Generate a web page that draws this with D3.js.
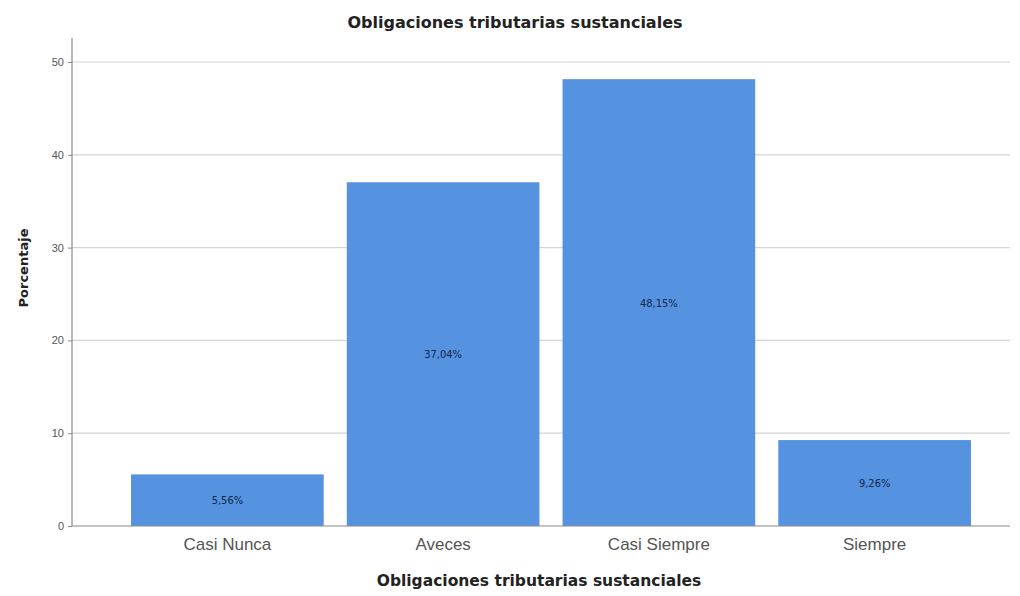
<!DOCTYPE html>
<html><head><meta charset="utf-8">
<script src="https://cdn.jsdelivr.net/npm/d3@7"></script>
<style>body{margin:0;background:#fff}</style>
</head><body><svg id="c" width="1020" height="596"></svg>
<script>
const categories = ["Casi Nunca","Aveces","Casi Siempre","Siempre"];
const values = [5.56, 37.04, 48.15, 9.26];
const labels = ["5,56%","37,04%","48,15%","9,26%"];
const yTicks = [0,10,20,30,40,50];
const title = "Obligaciones tributarias sustanciales";
const xTitle = "Obligaciones tributarias sustanciales";
const yTitle = "Porcentaje";

const svg = d3.select("#c");
const mLeft = 72, mRight = 1010, mTop = 38, mBottom = 526;
const boldFont = "DejaVu Sans, Verdana, sans-serif";
const y = d3.scaleLinear().domain([0,50]).range([mBottom, 62]);
const x = d3.scaleBand().domain(categories).range([119.5, 982.5]).paddingInner(0.107).paddingOuter(0.0535);

svg.append("g").selectAll("line").data(yTicks.filter(d=>d>0)).join("line")
  .attr("x1", mLeft).attr("x2", mRight).attr("y1", d=>y(d)).attr("y2", d=>y(d))
  .attr("stroke", "#d4d4d4").attr("stroke-width", 1.2);

svg.append("g").selectAll("rect").data(values).join("rect")
  .attr("x", (d,i)=>x(categories[i])).attr("width", x.bandwidth())
  .attr("y", d=>y(d)).attr("height", d=>mBottom - y(d))
  .attr("fill", "#5592e0");

svg.append("g").selectAll("text").data(values).join("text")
  .attr("x", (d,i)=>x(categories[i]) + x.bandwidth()/2)
  .attr("y", d=>(y(d)+mBottom)/2 + 4)
  .attr("text-anchor","middle").attr("font-family","DejaVu Sans Condensed, DejaVu Sans, sans-serif")
  .attr("font-size", 11).attr("fill", "#122746")
  .text((d,i)=>labels[i]);

svg.append("line").attr("x1", mLeft).attr("x2", mLeft).attr("y1", mTop).attr("y2", mBottom)
  .attr("stroke", "#8a8a8a").attr("stroke-width", 1.2);
svg.append("line").attr("x1", mLeft).attr("x2", mRight).attr("y1", mBottom).attr("y2", mBottom)
  .attr("stroke", "#8a8a8a").attr("stroke-width", 1.2);

const yAxis = d3.axisLeft(y).tickValues(yTicks).tickSize(4).tickPadding(4);
const gy = svg.append("g").attr("transform", `translate(${mLeft},0)`).call(yAxis);
gy.select(".domain").remove();
gy.selectAll("line").attr("stroke", "#8a8a8a");
gy.selectAll("text").attr("font-family","Liberation Sans, Arial, sans-serif").attr("font-size", 11).attr("fill", "#555");

const xAxis = d3.axisBottom(x).tickSize(0).tickPadding(12);
const gx = svg.append("g").attr("transform", `translate(0,${mBottom})`).call(xAxis);
gx.select(".domain").remove();
gx.selectAll("text").attr("font-family","Liberation Sans, Arial, sans-serif").attr("font-size", 17).attr("fill", "#555");

svg.append("text").attr("x", 515).attr("y", 28).attr("text-anchor","middle")
  .attr("font-family",boldFont).attr("font-weight","bold").attr("font-size", 16).attr("fill","#222")
  .text(title);
svg.append("text").attr("x", 539).attr("y", 586).attr("text-anchor","middle")
  .attr("font-family",boldFont).attr("font-weight","bold").attr("font-size", 15.5).attr("fill","#222")
  .text(xTitle);
svg.append("text").attr("transform","translate(28,268) rotate(-90)").attr("text-anchor","middle")
  .attr("font-family",boldFont).attr("font-weight","bold").attr("font-size", 13).attr("fill","#222")
  .text(yTitle);
</script></body></html>
